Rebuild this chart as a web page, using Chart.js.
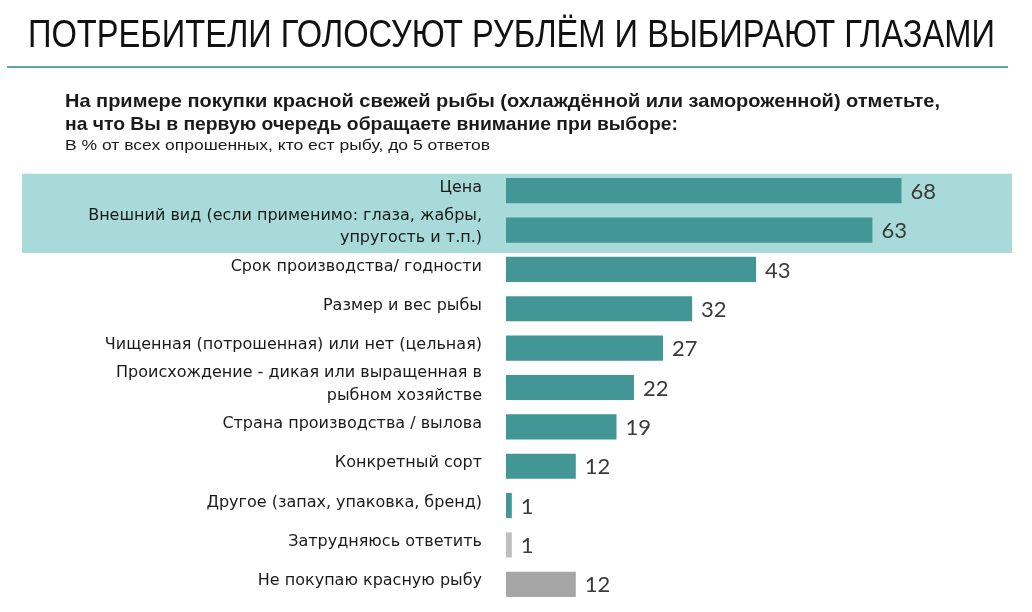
<!DOCTYPE html>
<html>
<head>
<meta charset="utf-8">
<script src="https://cdn.jsdelivr.net/npm/chart.js@4"></script>
<style>
  html, body { margin: 0; padding: 0; background: #fff; }
  #wrap { width: 1032px; height: 612px; position: relative; }
</style>
</head>
<body>
<div id="wrap"><canvas id="myChart"></canvas></div>
<script>
var categories = [
    'Цена',
    ['Внешний вид (если применимо: глаза, жабры,', 'упругость и т.п.)'],
    'Срок производства/ годности',
    'Размер и вес рыбы',
    'Чищенная (потрошенная) или нет (цельная)',
    ['Происхождение - дикая или выращенная в', 'рыбном хозяйстве'],
    'Страна производства / вылова',
    'Конкретный сорт',
    'Другое (запах, упаковка, бренд)',
    'Затрудняюсь ответить',
    'Не покупаю красную рыбу'
];
var values = [68, 63, 43, 32, 27, 22, 19, 12, 1, 1, 12];
var barColors = ['#439696', '#439696', '#439696', '#439696', '#439696', '#439696',
                 '#439696', '#439696', '#439696', '#bfbfbf', '#a6a6a6'];

var title = 'ПОТРЕБИТЕЛИ ГОЛОСУЮТ РУБЛЁМ И ВЫБИРАЮТ ГЛАЗАМИ';
var question1 = 'На примере покупки красной свежей рыбы (охлаждённой или замороженной) отметьте,';
var question2 = 'на что Вы в первую очередь обращаете внимание при выборе:';
var note = 'В % от всех опрошенных, кто ест рыбу, до 5 ответов';

// draw text squeezed/stretched to a given width
function fitText(ctx, text, x, y, w) {
    var m = ctx.measureText(text).width;
    ctx.save();
    ctx.translate(x, y);
    ctx.scale(w / m, 1);
    ctx.fillText(text, 0, 0);
    ctx.restore();
}

// header texts + highlight band + value labels
var decor = {
    id: 'decor',
    beforeDraw: function (chart) {
        var ctx = chart.ctx;
        var y = chart.scales.y;
        var top = y.getPixelForValue(0) - 17;
        var bottom = y.getPixelForValue(1) + 23;
        ctx.save();
        ctx.fillStyle = '#a9dada';
        ctx.fillRect(22, top, 990, bottom - top);
        ctx.restore();
    },
    afterDatasetsDraw: function (chart) {
        var ctx = chart.ctx;
        ctx.save();
        // title
        ctx.fillStyle = '#111';
        ctx.textBaseline = 'alphabetic';
        ctx.textAlign = 'left';
        ctx.font = '38px "Liberation Sans"';
        fitText(ctx, title, 28, 47, 967);
        ctx.strokeStyle = '#5ba6a6';
        ctx.lineWidth = 2;
        ctx.beginPath();
        ctx.moveTo(7, 67);
        ctx.lineTo(1008, 67);
        ctx.stroke();
        // question
        ctx.fillStyle = '#1a1a1a';
        ctx.font = 'bold 19px "Liberation Sans"';
        fitText(ctx, question1, 65, 107, 875);
        fitText(ctx, question2, 65, 130, 613);
        ctx.font = '14px "Liberation Sans"';
        fitText(ctx, note, 65, 150, 425);
        // values
        var meta = chart.getDatasetMeta(0);
        ctx.fillStyle = '#3a3a3a';
        ctx.font = '22px Lato, "Open Sans"';
        ctx.textBaseline = 'middle';
        meta.data.forEach(function (bar, i) {
            ctx.fillText(values[i], bar.x + 9, bar.y + 1);
        });
        ctx.restore();
    }
};

var ctx = document.getElementById('myChart').getContext('2d');
var myChart = new Chart(ctx, {
    type: 'bar',
    data: {
        labels: categories,
        datasets: [{
            data: values,
            backgroundColor: barColors,
            borderWidth: 0,
            barPercentage: 0.64,
            categoryPercentage: 1
        }]
    },
    options: {
        indexAxis: 'y',
        responsive: true,
        maintainAspectRatio: false,
        animation: false,
        layout: {
            padding: { top: 171, bottom: 8, left: 0, right: 20 }
        },
        plugins: {
            legend: { display: false },
            tooltip: { enabled: false }
        },
        scales: {
            x: {
                min: 0,
                max: 87,
                display: false
            },
            y: {
                grid: { display: false },
                border: { display: false },
                afterFit: function (scale) {
                    scale.width = 506;
                    scale.paddingTop = 0;
                    scale.paddingBottom = 0;
                },
                ticks: {
                    autoSkip: false,
                    color: '#1a1a1a',
                    padding: 16,
                    labelOffset: -3,
                    font: { family: 'Tahoma, "DejaVu Sans", "Liberation Sans"', size: 16, lineHeight: 1.4 }
                }
            }
        }
    },
    plugins: [decor]
});
</script>
</body>
</html>
